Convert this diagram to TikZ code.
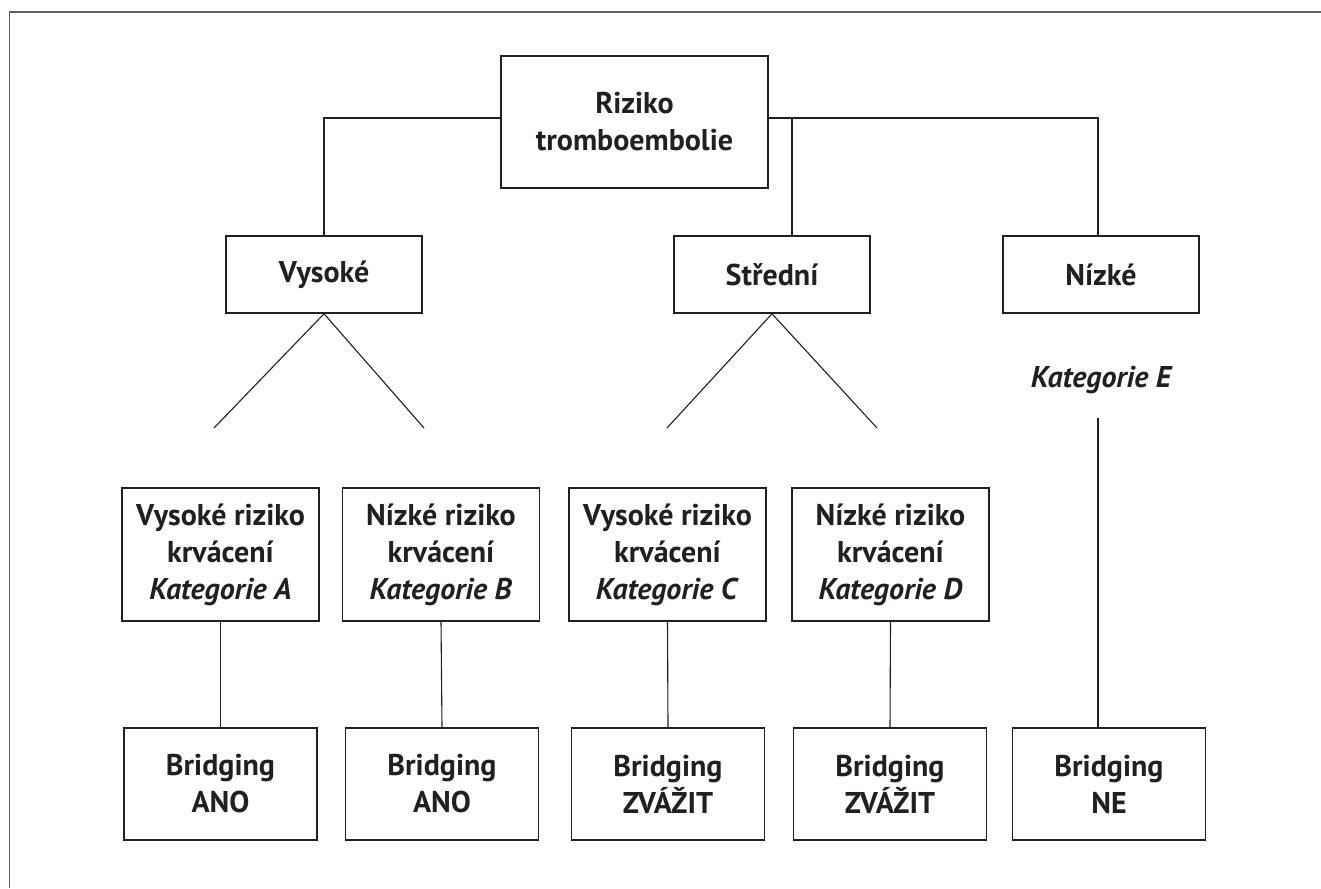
\documentclass[tikz,border=0pt]{standalone}
\usepackage{fontspec}
\setmainfont{PT Sans}
\usepackage{tikz}

\definecolor{ink}{HTML}{231F20}
\definecolor{framegray}{HTML}{606060}

\begin{document}
\begin{tikzpicture}[x=1pt, y=-1pt,
    box/.style={draw=ink, line width=1.5pt, align=center, text=ink, inner sep=0pt,
        font=\bfseries\fontsize{30}{37}\selectfont},
    topbox/.style={box, minimum width=196pt, minimum height=77pt},
    catbox/.style={box, minimum width=197pt, minimum height=133pt},
    bridgebox/.style={box, minimum width=193pt, minimum height=112pt},
    link/.style={draw=ink, line width=1.1pt}]
    \useasboundingbox (0,0) rectangle (1321,888);

    % Frame
    \draw[framegray, line width=1.3pt] (9.5,888) -- (9.5,12) -- (1321,12);

    % Root and risk levels
    \node[box, minimum width=267pt, minimum height=132pt] (root) at (634.5,122) {Riziko\\tromboembolie};
    \node[topbox] (vys) at (324,274.5) {Vysoké};
    \node[topbox] (str) at (772,274.5) {Střední};
    \node[topbox] (niz) at (1101,274.5) {Nízké};

    \coordinate (jct) at (792,118);
    \draw[link] ([yshift=4pt]root.west) -| (vys.north);
    \draw[link] ([yshift=4pt]root.east) -| ([xshift=-3pt]niz.north);
    \draw[link] (jct) -- (jct |- str.north);

    % Bleeding risk categories
    \node[catbox] (catA) at (220.5,554.5) {Vysoké riziko\\krvácení\\\textit{Kategorie A}};
    \node[catbox] (catB) at (441,554.5) {Nízké riziko\\krvácení\\\textit{Kategorie B}};
    \node[catbox] (catC) at (667.5,554.5) {Vysoké riziko\\krvácení\\\textit{Kategorie C}};
    \node[catbox] (catD) at (890.5,554.5) {Nízké riziko\\krvácení\\\textit{Kategorie D}};
    \node[text=ink, font=\bfseries\itshape\fontsize{30}{37}\selectfont] (catE) at (1101,380) {Kategorie E};

    % Diagonals
    \coordinate (vl) at (214,428);
    \coordinate (vr) at (424,428);
    \coordinate (sl) at (667,428);
    \coordinate (sr) at (877,428);
    \draw[link] (vl) -- (vys.south) -- (vr);
    \draw[link] (sl) -- (str.south) -- (sr);

    % Bridging
    \node[bridgebox] (brA) at (220.5,784) {Bridging\\ANO};
    \node[bridgebox] (brB) at (442,784) {Bridging\\ANO};
    \node[bridgebox] (brC) at (668,784) {Bridging\\ZVÁŽIT};
    \node[bridgebox] (brD) at (890,784) {Bridging\\ZVÁŽIT};
    \node[bridgebox] (brE) at (1109,784) {Bridging\\NE};

    \foreach \k in {A,B,C,D} {
        \draw[link] (cat\k.south) -- (br\k.north);
    }
    \coordinate (eTop) at (1098,418);
    \draw[link] (eTop) -- (eTop |- brE.north);
\end{tikzpicture}
\end{document}
